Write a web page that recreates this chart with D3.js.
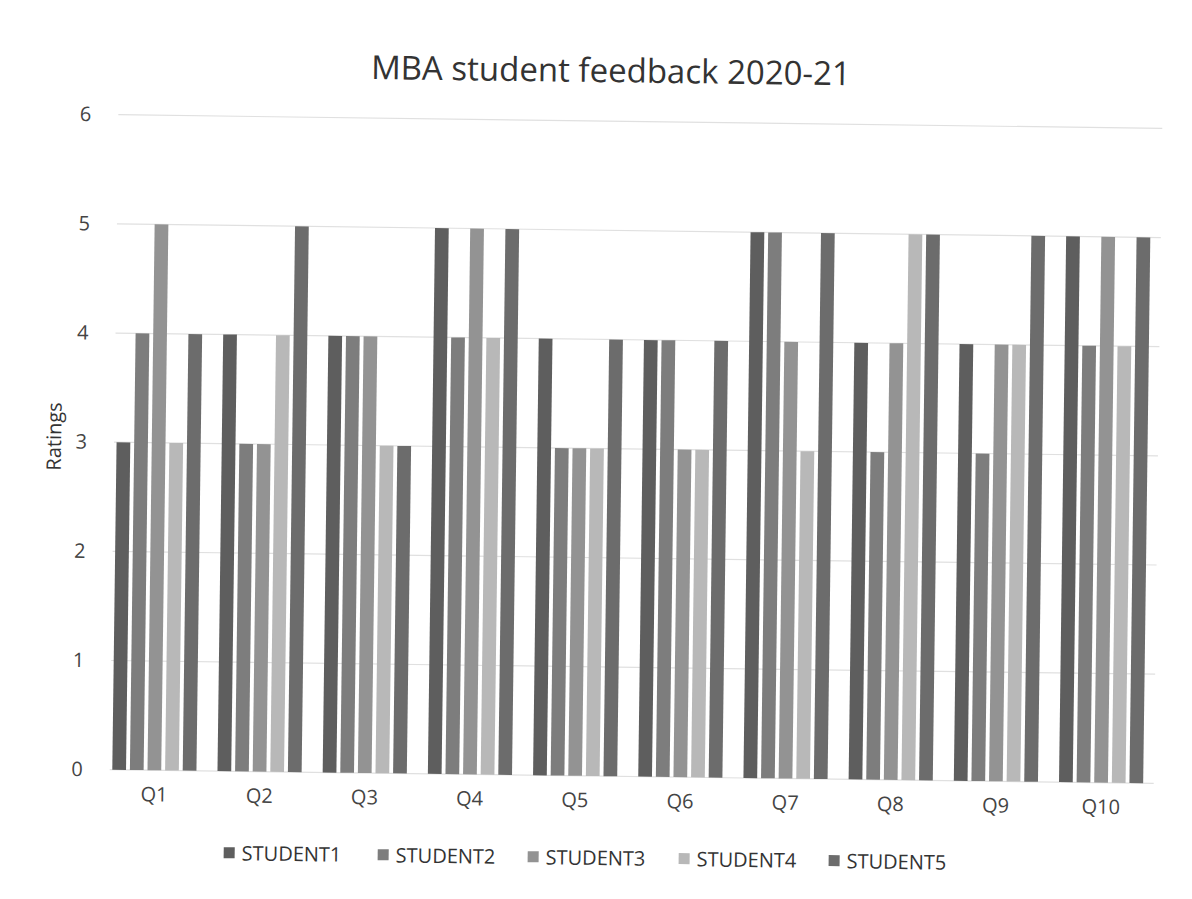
<!DOCTYPE html>
<html>
<head>
<meta charset="utf-8">
<script src="https://cdn.jsdelivr.net/npm/d3@7"></script>
<style>
  body { margin: 0; background: #fff; }
  svg { display: block; font-family: "Open Sans", "Liberation Sans", sans-serif; }
</style>
</head>
<body>
<script>
const questions = ["Q1", "Q2", "Q3", "Q4", "Q5", "Q6", "Q7", "Q8", "Q9", "Q10"]
const students = ["STUDENT1", "STUDENT2", "STUDENT3", "STUDENT4", "STUDENT5"]
const student1 = [3, 4, 4, 5, 4, 4, 5, 4, 4, 5]
const student2 = [4, 3, 4, 4, 3, 4, 5, 3, 3, 4]
const student3 = [5, 3, 4, 5, 3, 3, 4, 4, 4, 5]
const student4 = [3, 4, 3, 4, 3, 3, 3, 5, 4, 4]
const student5 = [4, 5, 3, 5, 4, 4, 5, 5, 5, 5]
const yTicks = [0, 1, 2, 3, 4, 5, 6]

const series = [student1, student2, student3, student4, student5]
const colors = ["#5e5e5e", "#7d7d7d", "#939393", "#b8b8b8", "#6c6c6c"]

const width = 1192, height = 899
const margin = { top: 121, right: 34, bottom: 123, left: 106 }

const svg = d3.select("body").append("svg")
    .attr("width", width)
    .attr("height", height)

// the scan is a little tilted
const g = svg.append("g")
    .attr("transform", `rotate(0.75, ${width / 2}, ${height / 2})`)

const y = d3.scaleLinear()
    .domain([0, 6])
    .range([height - margin.bottom, margin.top])

const x = d3.scaleBand()
    .domain(questions)
    .range([margin.left, width - margin.right])
    .paddingInner(0.2)
    .paddingOuter(0.1)

const xs = d3.scaleBand()
    .domain(d3.range(students.length))
    .range([0, x.bandwidth()])
    .paddingInner(0.22)

// gridlines
g.append("g")
    .selectAll("line")
    .data(yTicks)
    .join("line")
      .attr("x1", margin.left + 8)
      .attr("x2", width - margin.right)
      .attr("y1", d => y(d))
      .attr("y2", d => y(d))
      .attr("stroke", "#e0e0e0")
      .attr("stroke-width", 1.2)

// y axis labels
const yAxis = g.append("g")
    .attr("transform", `translate(${margin.left - 19},0)`)
    .call(d3.axisLeft(y).tickValues(yTicks).tickFormat(d3.format("d")).tickSize(0).tickPadding(0))
yAxis.select(".domain").remove()
yAxis.selectAll("text")
    .style("font-size", "20px")
    .style("font-family", "Open Sans, sans-serif")
    .attr("fill", "#444")

// bars
g.append("g")
  .selectAll("g")
  .data(questions)
  .join("g")
    .attr("transform", d => `translate(${x(d)},0)`)
  .selectAll("rect")
  .data((q, i) => series.map((s, j) => ({ j: j, v: s[i] })))
  .join("rect")
    .attr("x", d => xs(d.j))
    .attr("y", d => y(d.v))
    .attr("width", xs.bandwidth())
    .attr("height", d => y(0) - y(d.v))
    .attr("fill", d => colors[d.j])

// x axis labels
const xAxis = g.append("g")
    .attr("transform", `translate(0,${y(0) + 17})`)
    .call(d3.axisBottom(x).tickSize(0).tickPadding(0))
xAxis.select(".domain").remove()
xAxis.selectAll("text")
    .style("font-size", "20px")
    .style("font-family", "Open Sans, sans-serif")
    .attr("fill", "#444")

// titles
g.append("text")
    .attr("x", 606)
    .attr("y", 82)
    .attr("text-anchor", "middle")
    .style("font-size", "33px")
    .attr("fill", "#333")
    .text("MBA student feedback 2020-21")

g.append("text")
    .attr("transform", `translate(61,${(y(0) + y(6)) / 2 - 5}) rotate(-90)`)
    .attr("text-anchor", "middle")
    .style("font-size", "20px")
    .attr("fill", "#333")
    .text("Ratings")

// legend
const legendX = d3.scaleOrdinal()
    .domain(students)
    .range([229, 383, 533, 684, 834])

const legend = g.append("g")
    .attr("transform", "translate(0,864)")
  .selectAll("g")
  .data(students)
  .join("g")
    .attr("transform", d => `translate(${legendX(d)},0)`)

legend.append("rect")
    .attr("x", 0)
    .attr("y", -12)
    .attr("width", 11)
    .attr("height", 11)
    .attr("fill", (d, i) => colors[i])

legend.append("text")
    .attr("x", 18)
    .attr("y", 1)
    .style("font-size", "20px")
    .attr("fill", "#333")
    .text(d => d)
</script>
</body>
</html>
